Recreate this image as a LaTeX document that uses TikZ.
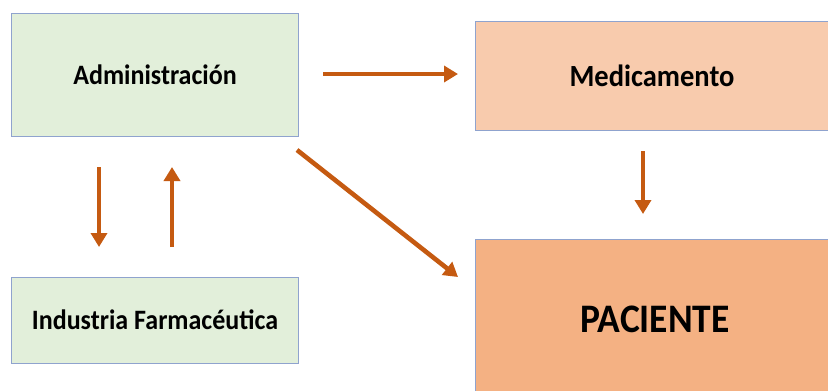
\documentclass[tikz,border=0pt]{standalone}
\usepackage{fontspec}
\setmainfont{Carlito}
\usetikzlibrary{arrows.meta}
\definecolor{boxborder}{RGB}{143,163,206}
\definecolor{greenfill}{RGB}{226,239,218}
\definecolor{medfill}{RGB}{248,203,173}
\definecolor{pacfill}{RGB}{244,177,131}
\definecolor{arrowcol}{RGB}{197,90,17}
\newcommand{\boxfont}[1]{\bfseries\fontsize{#1}{#1}\selectfont}
\tikzset{
  box/.style={draw=boxborder, line width=1bp, inner sep=0pt},
  conn/.style={draw=arrowcol, line width=4.6bp, -{Triangle[length=14bp,width=16bp]}},
}
\begin{document}
\begin{tikzpicture}[x=1bp,y=-1bp]
\useasboundingbox (0,0) rectangle (828,390);
\node[box, fill=greenfill, minimum width=286bp, minimum height=123bp, font=\boxfont{26bp}] (admin) at (155,74.5) {\scalebox{1}[1.08]{Administración}};
\node[box, fill=greenfill, minimum width=286bp, minimum height=86bp, font=\boxfont{26bp}] (ind) at (155,320) {\scalebox{1}[1.08]{Industria Farmacéutica}};
\node[box, fill=medfill, minimum width=354bp, minimum height=109bp, font=\boxfont{28.5bp}] (med) at (652,75.5) {\scalebox{1}[1.08]{Medicamento}};
\node[box, fill=pacfill, minimum width=360bp, minimum height=160bp, font=\boxfont{37.5bp}] (pac) at (655,319) {\scalebox{1}[1.08]{PACIENTE}};
\coordinate (a1) at (323,74);
\coordinate (a2) at (458,74);
\coordinate (d1) at (99,167);
\coordinate (d2) at (99,247);
\coordinate (u1) at (172,247);
\coordinate (u2) at (172,167);
\coordinate (g1) at (297,150);
\coordinate (g2) at (458,277);
\coordinate (m1) at (643,151);
\coordinate (m2) at (643,214);
\draw[conn] (a1) -- (a2);
\draw[conn] (d1) -- (d2);
\draw[conn] (u1) -- (u2);
\draw[conn] (g1) -- (g2);
\draw[conn] (m1) -- (m2);
\end{tikzpicture}
\end{document}
